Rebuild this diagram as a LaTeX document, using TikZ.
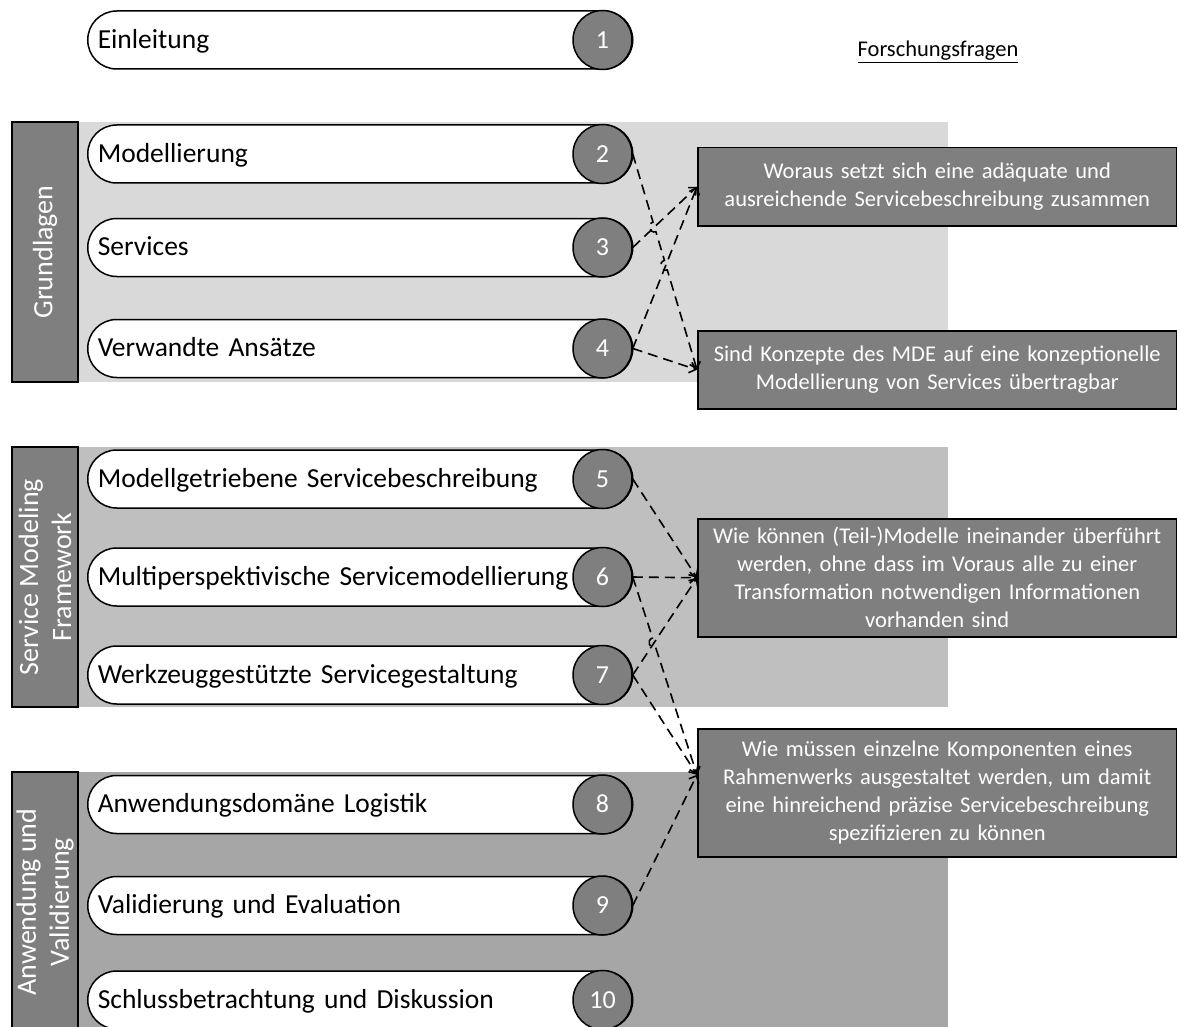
\documentclass[tikz,border=0pt]{standalone}
\usepackage{fontspec}
\setmainfont{Carlito}
\usetikzlibrary{arrows.meta,calc,intersections}
\definecolor{midgrey}{HTML}{7F7F7F}
\definecolor{bgA}{HTML}{D9D9D9}
\definecolor{bgB}{HTML}{BFBFBF}
\definecolor{bgC}{HTML}{A6A6A6}

\begin{document}
\begin{tikzpicture}[x=1pt,y=-1pt,
  chapter/.style={draw=black, line width=1.5pt, fill=white, rounded corners=28.9pt,
    minimum height=58pt, text width=525pt, inner xsep=10pt, inner ysep=0pt,
    text height=19pt, text depth=2.5pt,
    align=left, anchor=west, font=\fontsize{27.5}{32}\selectfont},
  num/.style={circle, draw=black, line width=1.5pt, fill=midgrey, text=white,
    minimum size=59pt, inner sep=0pt, text height=16.4pt, text depth=0pt,
    font=\fontsize{26}{30}\selectfont},
  question/.style={draw=black, line width=1.5pt, fill=midgrey, text=white,
    minimum width=479pt, text width=470pt, align=center, anchor=north west,
    inner xsep=4.5pt, inner ysep=0pt, font=\fontsize{22.5}{28}\selectfont},
  partbar/.style={draw=black, line width=1.5pt, fill=midgrey, text=white, rotate=90,
    minimum width=260pt, minimum height=66pt, align=center, inner sep=0pt,
    font=\fontsize{28}{33}\selectfont},
  link/.style={line width=1.6pt, dash pattern=on 10pt off 6pt,
    -{Straight Barb[length=6pt,width=11pt]}},
]
\useasboundingbox (0,0) rectangle (1177,1027);

% part backgrounds
\fill[bgA] (12,122) rectangle (948,382);
\fill[bgB] (12,447) rectangle (948,707);
\fill[bgC] (12,772) rectangle (948,1032);

% part labels
\node[partbar] (gA) at (45,252) {Grundlagen};
\node[partbar] (gB) at (45,577) {Service Modeling\\Framework};
\node[partbar] (gC) at (45,902) {Anwendung und\\Validierung};

% chapters
\foreach \i/\y/\t in {1/40/Einleitung, 2/154/Modellierung, 3/247.5/Services,
    4/348.5/Verwandte Ansätze, 5/479/Modellgetriebene Servicebeschreibung,
    6/577/Multiperspektivische Servicemodellierung,
    7/675/Werkzeuggestützte Servicegestaltung, 8/804.5/Anwendungsdomäne Logistik,
    9/905.5/Validierung und Evaluation, 10/1000/Schlussbetrachtung und Diskussion}{
  \node[chapter] (p\i) at (87,\y) {\t};
  \node[num] (c\i) at (602.5,\y) {\i};
}

% research questions
\node[font=\fontsize{22.5}{26}\selectfont] (ff) at (938,52) {\underline{Forschungsfragen}};
\node[question, minimum height=78pt] (q1) at (697,147)
  {Woraus setzt sich eine adäquate und\\ausreichende Servicebeschreibung zusammen};
\node[question, minimum height=78pt] (q2) at (697,330)
  {Sind Konzepte des MDE auf eine konzeptionelle\\Modellierung von Services übertragbar};
\node[question, minimum height=118pt] (q3) at (697,518)
  {Wie können (Teil-)Modelle ineinander überführt\\werden, ohne dass im Voraus alle zu einer\\Transformation notwendigen Informationen\\vorhanden sind};
\node[question, minimum height=128pt] (q4) at (697,728)
  {Wie müssen einzelne Komponenten eines\\Rahmenwerks ausgestaltet werden, um damit\\eine hinreichend präzise Servicebeschreibung\\spezifizieren zu können};
\coordinate (q4in) at ($(q4.west)+(0,-18)$);

% crossing points for line hops
\path[name path=l31] (c3.east) -- (q1.west);
\path[name path=l41] (c4.east) -- (q1.west);
\path[name path=l22] (c2.east) -- (q2.west);
\path[name path=l73] (c7.east) -- (q3.west);
\path[name path=l64] (c6.east) -- (q4in);
\path[name intersections={of=l22 and l31, by=h1}];
\path[name intersections={of=l22 and l41, by=h2}];
\path[name intersections={of=l64 and l73, by=h3}];
\foreach \h/\e in {h1/q2.west, h2/q2.west, h3/q4in}{
  \coordinate (\h a) at ($(\h)!-5pt!(\e)$);
  \coordinate (\h b) at ($(\h)!5pt!(\e)$);
  \coordinate (\h ac) at ($(\h a)!6.7pt!-90:(\h b)$);
  \coordinate (\h bc) at ($(\h b)!6.7pt!90:(\h a)$);
}

% connectors
\draw[link] (c3.east) -- (q1.west);
\draw[link] (c4.east) -- (q1.west);
\draw[link] (c4.east) -- (q2.west);
\draw[link] (c2.east) -- (h1a) .. controls (h1ac) and (h1bc) .. (h1b)
  -- (h2a) .. controls (h2ac) and (h2bc) .. (h2b) -- (q2.west);
\draw[link] (c5.east) -- (q3.west);
\draw[link] (c6.east) -- (q3.west);
\draw[link] (c7.east) -- (q3.west);
\draw[link] (c6.east) -- (h3a) .. controls (h3ac) and (h3bc) .. (h3b) -- (q4in);
\draw[link] (c7.east) -- (q4in);
\draw[link] (c9.east) -- (q4in);
\end{tikzpicture}
\end{document}
